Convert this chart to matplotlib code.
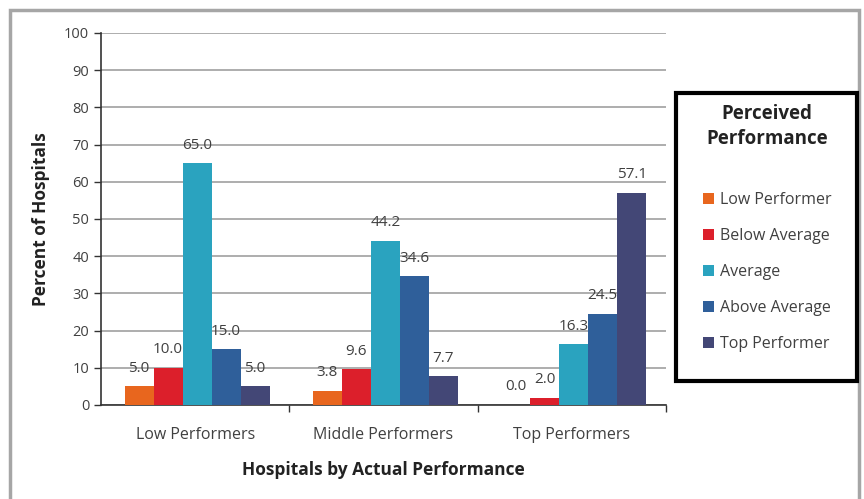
import numpy as np
import matplotlib
matplotlib.use('Agg')
import matplotlib.pyplot as plt
from matplotlib.patches import Rectangle

categories = ['Low Performers', 'Middle Performers', 'Top Performers']
series_names = ['Low Performer', 'Below Average', 'Average', 'Above Average', 'Top Performer']
values = {
    'Low Performer': [5.0, 3.8, 0.0],
    'Below Average': [10.0, 9.6, 2.0],
    'Average': [65.0, 44.2, 16.3],
    'Above Average': [15.0, 34.6, 24.5],
    'Top Performer': [5.0, 7.7, 57.1],
}
colors = ['#E8661E', '#DC1F2B', '#2AA3BF', '#2F5F9A', '#434776']
yticks = list(range(0, 101, 10))

plt.rcParams['font.family'] = ['Open Sans', 'DejaVu Sans']
txt = '#404040'

fig = plt.figure(figsize=(8.64, 4.99), dpi=100)
ax = fig.add_axes([0.1169, 0.1884, 0.6539, 0.7455])

# grey frame around the chart area
fig.patches.append(Rectangle((10 / 864, -0.05), 849 / 864, 1.05 - 10 / 499,
                             transform=fig.transFigure, fill=False,
                             edgecolor='#A6A6A6', linewidth=2.5))

x = np.arange(len(categories))
n = len(series_names)
width = 0.154
for i, name in enumerate(series_names):
    pos = x + (i - (n - 1) / 2) * width + 0.01
    bars = ax.bar(pos, values[name], width, color=colors[i], label=name, zorder=3)
    for b, v in zip(bars, values[name]):
        ax.annotate(f'{v:.1f}', (b.get_x() + b.get_width() / 2, v),
                    xytext=(0, 13), textcoords='offset points',
                    ha='center', va='center', fontsize=11, color=txt, zorder=4)

ax.set_xlim(-0.5, 2.5)
ax.set_ylim(0, 100)
ax.set_yticks(yticks)
ax.set_xticks(x)
ax.set_xticklabels(categories, fontsize=11.5, color=txt)
ax.set_xticks([0.5, 1.5, 2.5], minor=True)
ax.tick_params(axis='x', which='major', length=0, pad=16)
ax.tick_params(axis='x', which='minor', length=5, width=1, color='#333333')
ax.tick_params(axis='y', length=5, width=1, color='#333333', labelsize=10.5, labelcolor=txt)
ax.yaxis.grid(True, color='#A0A0A0', linewidth=1.2, zorder=0)
for s in ['top', 'right']:
    ax.spines[s].set_visible(False)
for s in ['left', 'bottom']:
    ax.spines[s].set_color('#333333')
    ax.spines[s].set_linewidth(1.2)

ax.set_ylabel('Percent of Hospitals', fontsize=12.5, fontweight='bold', labelpad=10, color='#222222')
ax.set_xlabel('Hospitals by Actual Performance', fontsize=12.5, fontweight='bold',
              labelpad=13, color='#222222')

# legend box drawn separately so its padding matches the original
fig.patches.append(Rectangle((676 / 864, 1 - 381 / 499), 181 / 864, 288 / 499,
                             transform=fig.transFigure, fill=False,
                             edgecolor='black', linewidth=3))
leg = fig.legend(loc='upper center', bbox_to_anchor=(767 / 864, 1 - 91 / 499),
                 title='Perceived\nPerformance', fontsize=11.5, alignment='center',
                 handlelength=0.7, handleheight=0.7, handletextpad=0.35,
                 labelspacing=1.25, borderpad=0.3, frameon=False)
title = leg.get_title()
title.set_fontsize(13.5)
title.set_fontweight('bold')
title.set_color('#222222')
title.set_multialignment('center')
title.set_linespacing(1.35)
for t in leg.get_texts():
    t.set_color(txt)
leg._legend_box.sep = 31

fig.savefig('out.png', dpi=100)
